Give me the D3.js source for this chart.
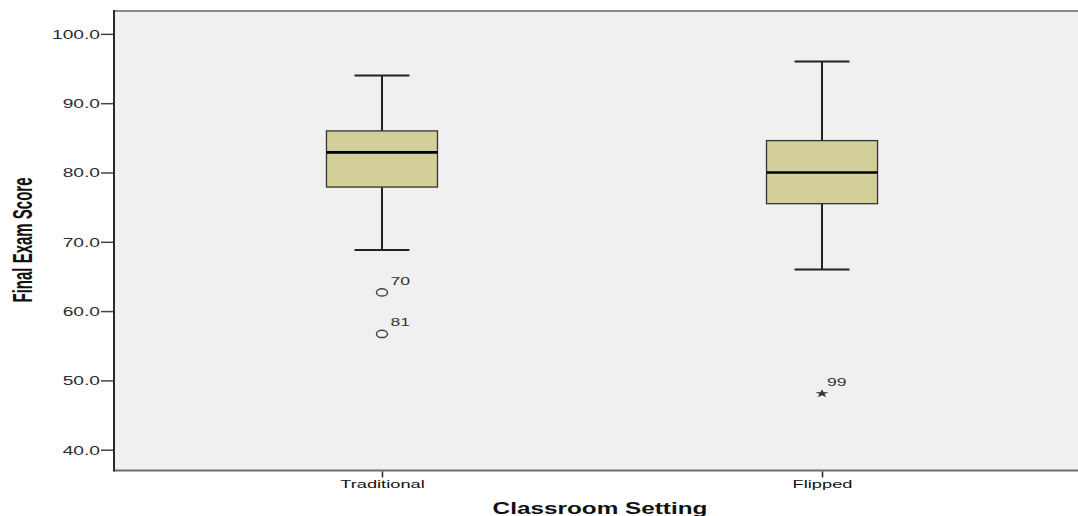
<!DOCTYPE html>
<html><head><meta charset="utf-8">
<script src="https://cdn.jsdelivr.net/npm/d3@7"></script>
<style>html,body{margin:0;padding:0;background:#fff;}svg{display:block;}</style>
</head><body>
<svg id="chart" width="1078" height="516"></svg>
<script>
const categories = ["Traditional", "Flipped"];
const whiskerHigh = [94.0, 96.0];
const q3 = [86.0, 84.6];
const median = [82.9, 80.0];
const q1 = [77.9, 75.5];
const whiskerLow = [68.8, 66.0];
const outlierCategory = ["Traditional", "Traditional", "Flipped"];
const outlierValue = [62.7, 56.7, 48.1];
const outlierLabel = ["70", "81", "99"];
const outlierKind = ["circle", "circle", "star"];
const yTicks = [40, 50, 60, 70, 80, 90, 100];
const yTitle = "Final Exam Score";
const xTitle = "Classroom Setting";

const SX = 1.6; // horizontal stretch of the original rendering
const svg = d3.select("#chart");
const plot = {left: 114, top: 11, right: 1090, bottom: 470.5};

const y = d3.scaleLinear().domain([37, 103.3]).range([plot.bottom, plot.top]);
const x = d3.scalePoint().domain(categories).range([plot.left, plot.right]).padding(0.609);

// plot background
svg.append("rect").attr("x", plot.left).attr("y", plot.top)
  .attr("width", plot.right - plot.left).attr("height", plot.bottom - plot.top)
  .attr("fill", "#f0f0f0");

// borders
svg.append("line").attr("x1", plot.left).attr("x2", 1078).attr("y1", plot.top).attr("y2", plot.top)
  .attr("stroke", "#8a8a8a").attr("stroke-width", 2);
svg.append("line").attr("x1", plot.left).attr("x2", 1078).attr("y1", plot.bottom).attr("y2", plot.bottom)
  .attr("stroke", "#6e6e6e").attr("stroke-width", 2);

// y axis
const yAxis = svg.append("g").attr("transform", `translate(${plot.left},0)`)
  .call(d3.axisLeft(y).tickValues(yTicks).tickFormat(d3.format(".1f")).tickSize(13).tickPadding(0));
yAxis.select(".domain").remove();
yAxis.selectAll(".tick line").attr("stroke", "#444").attr("stroke-width", 1.5);
yAxis.selectAll(".tick text")
  .attr("x", -14 / SX).attr("dy", "0.36em")
  .attr("transform", `scale(${SX},1)`)
  .attr("fill", "#2e2e2e").attr("font-family", "Liberation Sans, Arial, sans-serif").attr("font-size", 12);
svg.append("line").attr("x1", plot.left).attr("x2", plot.left).attr("y1", plot.top - 1).attr("y2", plot.bottom + 1)
  .attr("stroke", "#2a2a2a").attr("stroke-width", 2);

// x axis
const xAxis = svg.append("g").attr("transform", `translate(0,${plot.bottom + 1})`)
  .call(d3.axisBottom(x).tickSize(6).tickPadding(0));
xAxis.select(".domain").remove();
xAxis.selectAll(".tick line").attr("stroke", "#222").attr("stroke-width", 1.5);
xAxis.selectAll(".tick text")
  .attr("y", 16.5).attr("dy", 0)
  .attr("transform", `scale(${1.66},1)`)
  .attr("fill", "#111").attr("font-family", "Liberation Sans, Arial, sans-serif").attr("font-size", 11);

// titles
svg.append("text")
  .attr("transform", `translate(600,514) scale(1.52,1)`)
  .attr("text-anchor", "middle")
  .attr("font-family", "Liberation Sans, Arial, sans-serif").attr("font-weight", "bold").attr("font-size", 16)
  .attr("fill", "#111").text(xTitle);
svg.append("text")
  .attr("transform", `translate(32,240) scale(1.8,1) rotate(-90)`)
  .attr("text-anchor", "middle")
  .attr("font-family", "Liberation Sans, Arial, sans-serif").attr("font-weight", "bold").attr("font-size", 15)
  .attr("fill", "#111").text(yTitle);

// boxes
const boxHalf = 55.5, capHalf = 27.5;
const g = svg.append("g");
categories.forEach((c, i) => {
  const cx = x(c);
  g.append("line").attr("x1", cx).attr("x2", cx).attr("y1", y(whiskerHigh[i])).attr("y2", y(q3[i]))
    .attr("stroke", "#222").attr("stroke-width", 2);
  g.append("line").attr("x1", cx).attr("x2", cx).attr("y1", y(q1[i])).attr("y2", y(whiskerLow[i]))
    .attr("stroke", "#222").attr("stroke-width", 2);
  g.append("line").attr("x1", cx - capHalf).attr("x2", cx + capHalf).attr("y1", y(whiskerHigh[i])).attr("y2", y(whiskerHigh[i]))
    .attr("stroke", "#222").attr("stroke-width", 2);
  g.append("line").attr("x1", cx - capHalf).attr("x2", cx + capHalf).attr("y1", y(whiskerLow[i])).attr("y2", y(whiskerLow[i]))
    .attr("stroke", "#222").attr("stroke-width", 2);
  g.append("rect").attr("x", cx - boxHalf).attr("y", y(q3[i]))
    .attr("width", boxHalf * 2).attr("height", y(q1[i]) - y(q3[i]))
    .attr("fill", "#d3cf98").attr("stroke", "#333").attr("stroke-width", 1.3);
  g.append("line").attr("x1", cx - boxHalf).attr("x2", cx + boxHalf).attr("y1", y(median[i])).attr("y2", y(median[i]))
    .attr("stroke", "#000").attr("stroke-width", 2.6);
});

// outliers
outlierValue.forEach((v, i) => {
  const cx = x(outlierCategory[i]), cy = y(v);
  if (outlierKind[i] === "circle") {
    g.append("ellipse").attr("cx", cx).attr("cy", cy).attr("rx", 5.5).attr("ry", 3.6)
      .attr("fill", "none").attr("stroke", "#444").attr("stroke-width", 1.5);
  } else {
    g.append("path").attr("d", d3.symbol().type(d3.symbolStar).size(22)())
      .attr("transform", `translate(${cx},${cy}) scale(1.6,1)`)
      .attr("fill", "#333");
  }
  g.append("text")
    .attr("transform", `translate(${cx + (outlierKind[i] === "circle" ? 8.5 : 5)},${cy - 7.5}) scale(${SX},1)`)
    .attr("font-family", "Liberation Sans, Arial, sans-serif").attr("font-size", 11)
    .attr("fill", "#333").text(outlierLabel[i]);
});
</script>
</body></html>
